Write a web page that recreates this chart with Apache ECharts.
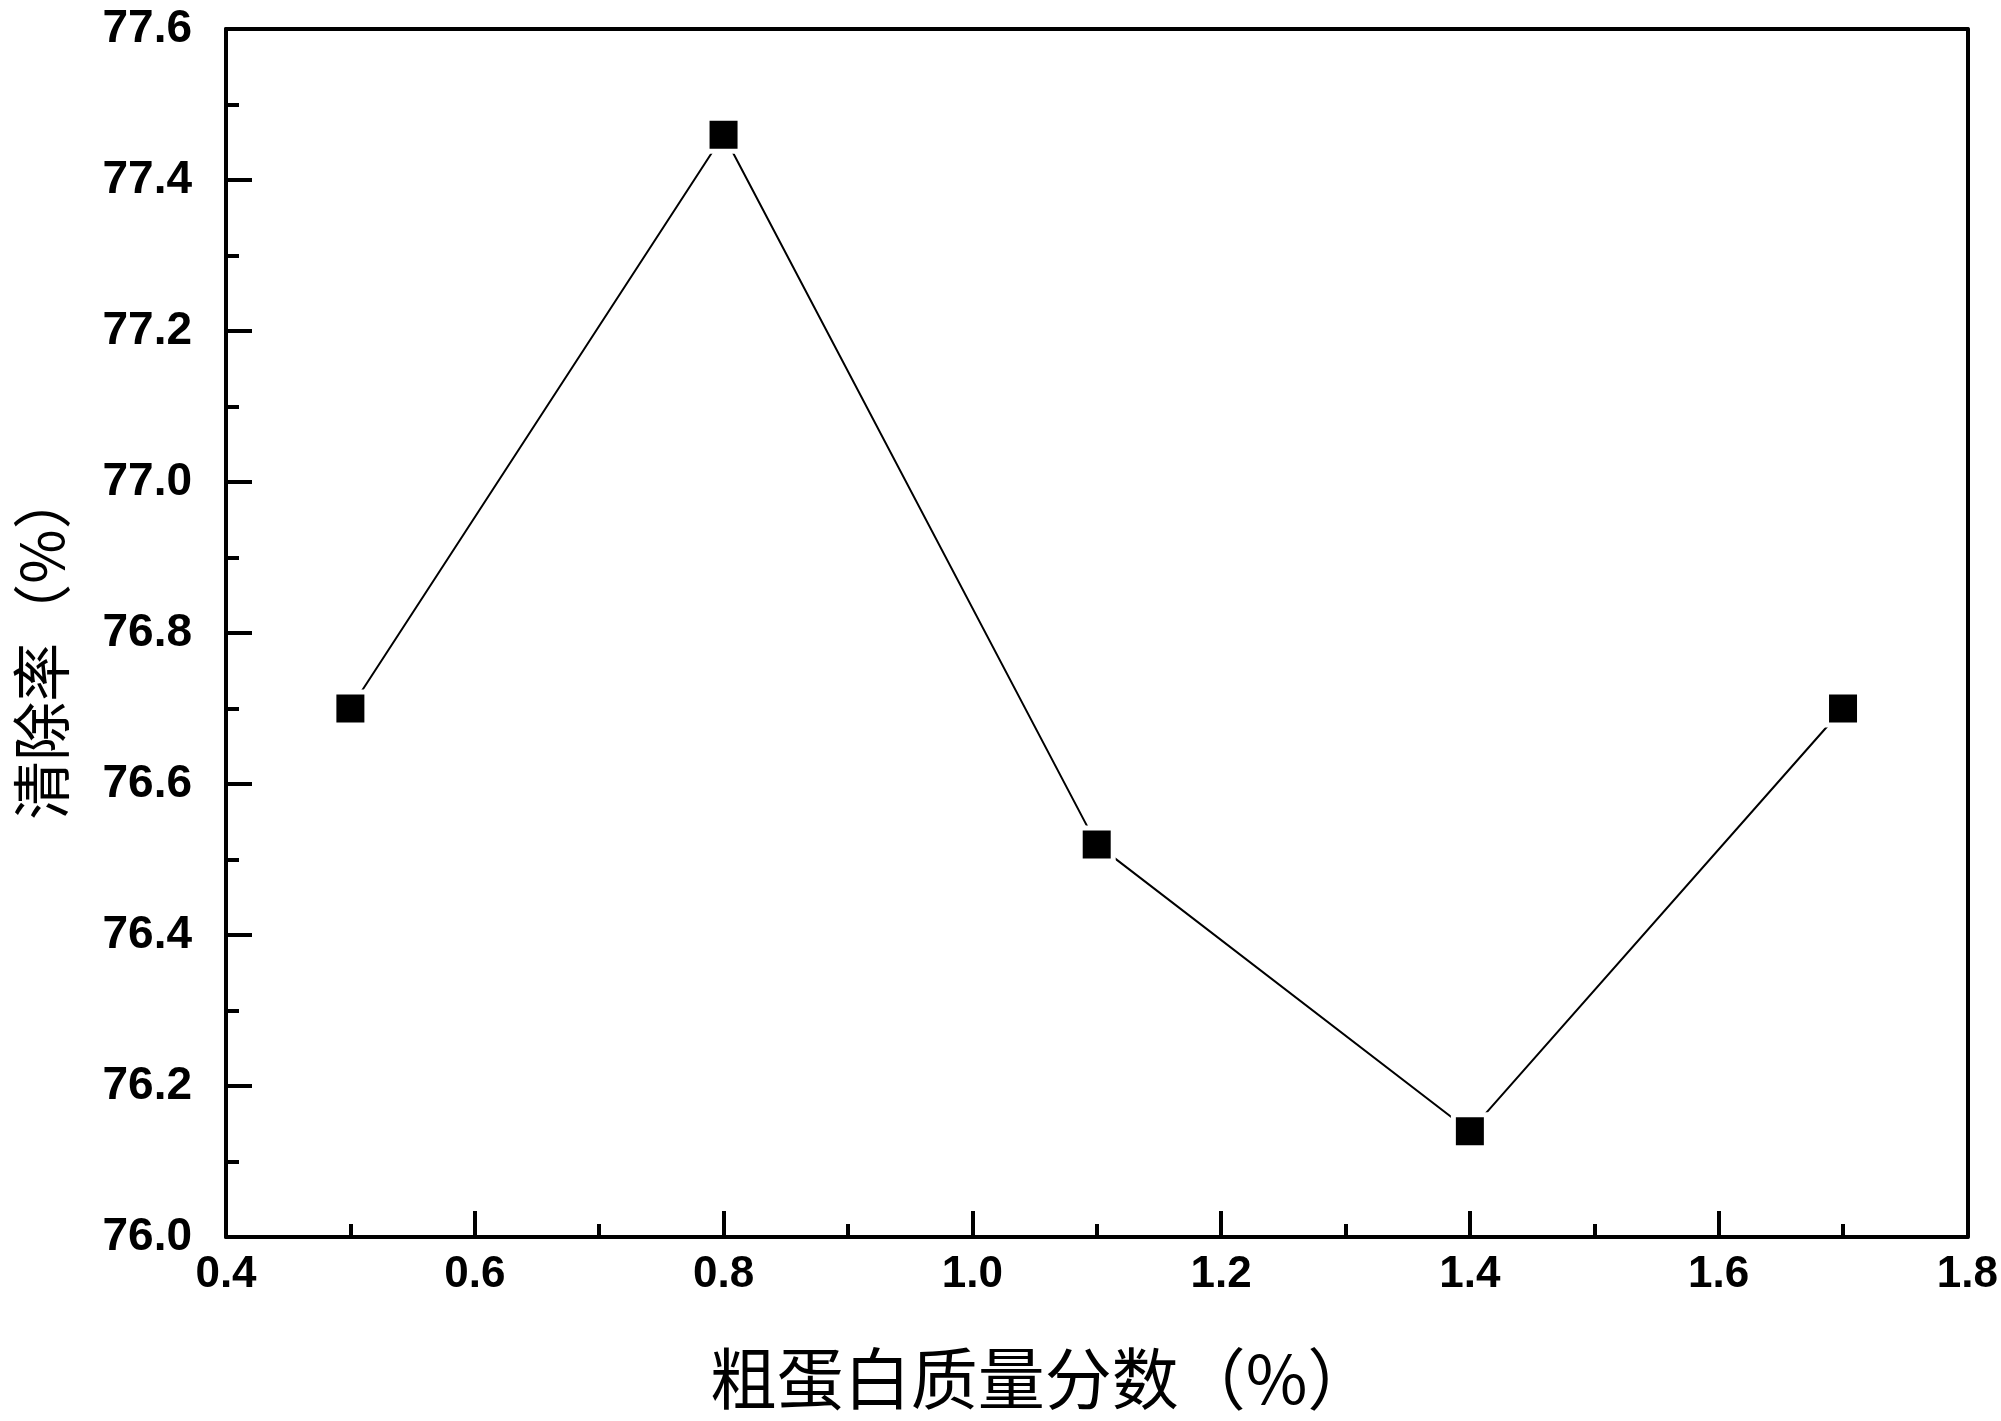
<!DOCTYPE html>
<html>
<head>
<meta charset="utf-8">
<script src="https://cdn.jsdelivr.net/npm/echarts@6/dist/echarts.min.js"></script>
<style>
html,body{margin:0;padding:0;background:#fff;}
#main{width:2001px;height:1421px;}
</style>
</head>
<body>
<div id="main"></div>
<script>
var xValues = [0.5, 0.8, 1.1, 1.4, 1.7];
var yValues = [76.70, 77.46, 76.52, 76.14, 76.70];
var xTitle = '粗蛋白质量分数（%）';
var yTitle = '清除率（%）';

var chart = echarts.init(document.getElementById('main'));
var pts = xValues.map(function (x, i) { return [x, yValues[i]]; });
var labelFont = 'Arial, "Liberation Sans", sans-serif';
var cjkFont = '"Noto Sans CJK SC", sans-serif';

chart.setOption({
  backgroundColor: '#fff',
  animation: false,
  grid: { left: 226, right: 20, top: 29, bottom: 184, containLabel: false },
  xAxis: [{
    type: 'value', min: 0.4, max: 1.8, interval: 0.2,
    axisLine: { show: true, onZero: false, lineStyle: { color: '#000', width: 4 } },
    axisTick: { show: true, inside: true, length: 26, lineStyle: { color: '#000', width: 4 } },
    minorTick: { show: true, splitNumber: 2, length: 13, lineStyle: { color: '#000', width: 4 } },
    splitLine: { show: false },
    axisLabel: { color: '#000', fontSize: 44, fontWeight: 'bold', fontFamily: labelFont, margin: 16,
      formatter: function (v) { return v.toFixed(1); } }
  }, {
    type: 'value', min: 0.4, max: 1.8, position: 'top',
    axisLine: { show: true, onZero: false, lineStyle: { color: '#000', width: 4 } },
    axisTick: { show: false }, axisLabel: { show: false }, splitLine: { show: false }
  }],
  yAxis: [{
    type: 'value', min: 76.0, max: 77.6, interval: 0.2,
    axisLine: { show: true, onZero: false, lineStyle: { color: '#000', width: 4 } },
    axisTick: { show: true, inside: true, length: 26, lineStyle: { color: '#000', width: 4 } },
    minorTick: { show: true, splitNumber: 2, length: 13, lineStyle: { color: '#000', width: 4 } },
    splitLine: { show: false },
    axisLabel: { color: '#000', fontSize: 46, fontWeight: 'bold', fontFamily: labelFont, margin: 34,
      formatter: function (v) { return v.toFixed(1); } }
  }, {
    type: 'value', min: 76.0, max: 77.6, position: 'right',
    axisLine: { show: true, onZero: false, lineStyle: { color: '#000', width: 4 } },
    axisTick: { show: false }, axisLabel: { show: false }, splitLine: { show: false }
  }],
  series: [{
    type: 'line',
    data: pts,
    symbol: 'rect',
    symbolSize: 33,
    showAllSymbol: true,
    lineStyle: { color: '#000', width: 2 },
    itemStyle: { color: '#000', borderColor: '#fff', borderWidth: 5 }
  }],
  graphic: [{
    type: 'text', x: 1042, y: 1379,
    style: { text: xTitle, font: '67px ' + cjkFont, fill: '#000', align: 'center', verticalAlign: 'middle' }
  }, {
    type: 'text', x: 42, y: 645, rotation: Math.PI / 2,
    style: { text: yTitle, font: '59px ' + cjkFont, fill: '#000', align: 'center', verticalAlign: 'middle' }
  }]
});
</script>
</body>
</html>
